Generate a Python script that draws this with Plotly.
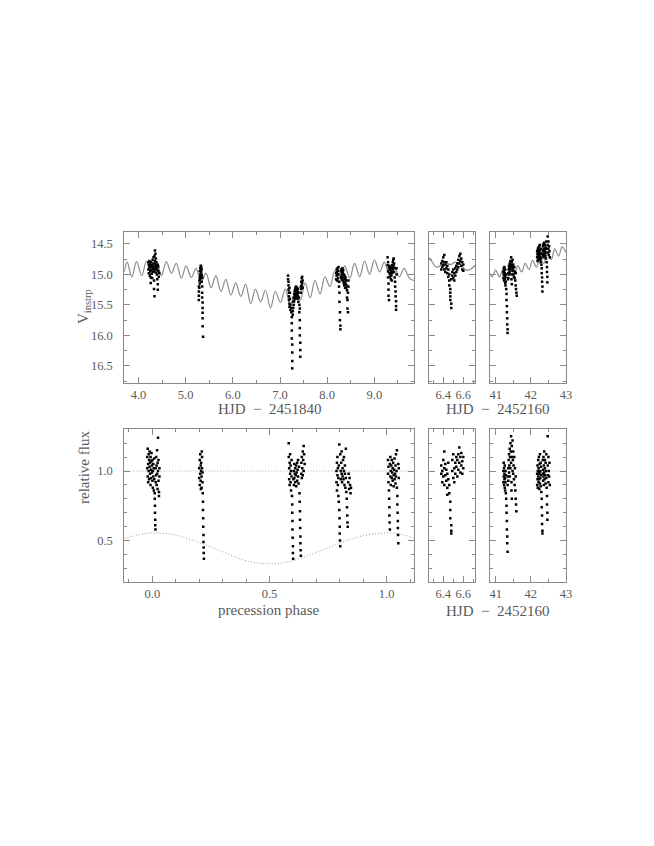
import plotly.graph_objects as go

# ---- observations, first season (HJD - 2451840, instrumental V) ----
main_a = [(4.21, 14.80), (4.21, 14.92), (4.22, 14.85), (4.22, 14.98), (4.23, 14.78), (4.23, 14.90),
          (4.24, 14.83), (4.24, 15.02), (4.25, 14.88), (4.25, 14.95), (4.26, 15.05), (4.26, 15.14),
          (4.26, 14.86), (4.27, 14.93), (4.27, 14.80), (4.28, 14.88), (4.28, 14.99), (4.29, 14.84),
          (4.30, 14.76), (4.30, 14.91), (4.31, 14.87), (4.31, 14.96), (4.32, 14.82), (4.32, 14.72),
          (4.33, 14.95), (4.33, 15.10), (4.33, 15.24), (4.34, 15.36), (4.34, 14.70), (4.34, 14.88),
          (4.35, 14.61), (4.35, 14.78), (4.35, 14.92), (4.36, 14.66), (4.36, 14.83), (4.37, 14.74),
          (4.37, 14.97), (4.38, 14.80), (4.38, 14.90), (4.39, 14.86), (4.39, 15.00), (4.40, 14.92),
          (4.40, 15.08), (4.41, 15.25), (4.41, 14.84), (4.41, 15.16), (4.42, 14.95), (4.42, 14.87),
          (4.43, 15.04), (4.44, 14.98), (4.29, 15.06), (4.37, 14.86)]
main_b = [(5.28, 15.20), (5.28, 15.28), (5.28, 15.35), (5.28, 15.42), (5.29, 15.10), (5.29, 15.22),
          (5.30, 14.95), (5.30, 15.05), (5.30, 15.15), (5.31, 14.90), (5.31, 15.00), (5.31, 15.08),
          (5.32, 14.86), (5.32, 14.94), (5.32, 15.03), (5.33, 14.88), (5.33, 14.97), (5.33, 15.06),
          (5.34, 14.92), (5.34, 15.01), (5.34, 15.12), (5.35, 15.05), (5.35, 15.20), (5.35, 15.30),
          (5.35, 15.38), (5.36, 15.46), (5.36, 15.55), (5.36, 15.63), (5.36, 15.72), (5.36, 15.85),
          (5.37, 16.02)]
main_c = [(7.17, 15.02), (7.17, 15.08), (7.18, 15.12), (7.18, 15.18), (7.18, 15.25), (7.19, 15.30),
          (7.19, 15.36), (7.19, 15.42), (7.20, 15.48), (7.20, 15.53), (7.20, 15.22), (7.21, 15.30),
          (7.21, 15.40), (7.22, 15.50), (7.22, 15.58), (7.24, 15.55), (7.24, 15.62), (7.25, 15.70),
          (7.25, 15.80), (7.25, 15.92), (7.25, 16.05), (7.26, 16.15), (7.26, 16.28), (7.26, 16.42),
          (7.26, 16.54), (7.27, 15.66), (7.27, 15.60), (7.28, 15.45), (7.28, 15.55), (7.29, 15.38),
          (7.29, 15.50), (7.30, 15.32), (7.30, 15.44), (7.31, 15.28), (7.31, 15.40), (7.32, 15.25),
          (7.32, 15.36), (7.33, 15.22), (7.33, 15.34), (7.34, 15.20), (7.34, 15.30), (7.35, 15.26),
          (7.35, 15.38), (7.36, 15.22), (7.36, 15.32), (7.37, 15.28), (7.37, 15.40), (7.38, 15.24),
          (7.38, 15.35), (7.39, 15.30), (7.39, 15.45), (7.40, 15.38), (7.41, 15.50), (7.41, 15.62),
          (7.42, 15.75), (7.42, 15.88), (7.42, 16.00), (7.43, 16.12), (7.43, 16.24), (7.43, 16.35),
          (7.42, 15.56), (7.44, 15.20), (7.44, 15.30), (7.45, 15.12), (7.45, 15.24), (7.46, 15.06),
          (7.46, 15.18), (7.47, 15.04), (7.47, 15.14), (7.48, 15.10), (7.48, 15.22)]
main_d = [(8.19, 14.98), (8.19, 15.08), (8.20, 14.92), (8.20, 15.02), (8.21, 14.96), (8.21, 15.10),
          (8.22, 14.90), (8.22, 15.00), (8.23, 14.94), (8.23, 15.06), (8.24, 14.88), (8.24, 15.00),
          (8.25, 15.12), (8.25, 15.20), (8.26, 15.30), (8.26, 15.45), (8.27, 15.62), (8.27, 15.75),
          (8.28, 15.84), (8.28, 15.90), (8.29, 14.95), (8.29, 15.05), (8.30, 14.92), (8.30, 15.02),
          (8.31, 14.98), (8.31, 15.08), (8.32, 14.90), (8.32, 15.00), (8.33, 14.96), (8.33, 15.10),
          (8.34, 14.93), (8.34, 15.04), (8.35, 15.00), (8.35, 15.14), (8.36, 15.06), (8.36, 15.18),
          (8.37, 15.02), (8.37, 15.12), (8.38, 15.08), (8.38, 15.22), (8.39, 15.15), (8.39, 15.05),
          (8.40, 15.10), (8.40, 15.22), (8.41, 15.18), (8.42, 15.26), (8.42, 15.38), (8.43, 15.42),
          (8.43, 15.56), (8.44, 15.62), (8.44, 15.30), (8.45, 15.10), (8.45, 15.20)]
main_e = [(9.28, 14.72), (9.28, 14.85), (9.29, 14.80), (9.29, 14.95), (9.29, 15.05), (9.30, 15.15),
          (9.30, 15.25), (9.30, 15.35), (9.31, 15.42), (9.31, 14.90), (9.32, 14.86), (9.32, 14.98),
          (9.33, 14.92), (9.33, 15.04), (9.34, 14.88), (9.34, 15.00), (9.35, 14.95), (9.35, 15.08),
          (9.36, 14.90), (9.36, 15.02), (9.37, 14.96), (9.37, 15.10), (9.38, 14.85), (9.38, 14.98),
          (9.39, 14.80), (9.39, 14.92), (9.40, 14.76), (9.40, 14.88), (9.41, 14.74), (9.41, 14.84),
          (9.42, 14.82), (9.42, 14.96), (9.43, 14.90), (9.43, 15.05), (9.44, 15.12), (9.44, 15.20),
          (9.45, 15.28), (9.45, 15.36), (9.46, 15.44), (9.46, 15.52), (9.46, 15.58), (9.47, 15.00),
          (9.47, 14.90)]

# model light curve, first season
main_model_t = [3.70, 3.76, 3.86, 3.96, 4.07, 4.17, 4.28, 4.38, 4.49, 4.59, 4.70, 4.80, 4.91, 5.01,
                5.12, 5.22, 5.33, 5.43, 5.54, 5.64, 5.75, 5.85, 5.96, 6.06, 6.17, 6.27, 6.38, 6.48,
                6.59, 6.69, 6.80, 6.90, 7.01, 7.11, 7.22, 7.32, 7.43, 7.53, 7.64, 7.74, 7.85, 7.95,
                8.06, 8.16, 8.27, 8.37, 8.48, 8.58, 8.69, 8.79, 8.90, 9.00, 9.11, 9.21, 9.32, 9.42,
                9.53, 9.63, 9.74, 9.84]
main_model_v = [14.96, 14.80, 15.04, 14.79, 15.02, 14.78, 15.00, 14.80, 15.02, 14.79, 14.98, 14.82,
                15.06, 14.86, 15.05, 14.90, 15.12, 14.98, 15.22, 15.02, 15.28, 15.08, 15.34, 15.14,
                15.36, 15.16, 15.48, 15.24, 15.45, 15.26, 15.55, 15.28, 15.46, 15.24, 15.50, 15.30,
                15.42, 15.14, 15.38, 15.10, 15.32, 15.04, 15.20, 14.94, 15.14, 14.86, 15.06, 14.82,
                15.04, 14.78, 15.00, 14.76, 14.96, 14.80, 15.00, 14.86, 15.04, 14.90, 15.06, 15.10]

# ---- second season (HJD - 2452160) ----
mid_obs = [(6.38, 14.82), (6.38, 14.92), (6.39, 14.78), (6.39, 14.88), (6.40, 14.72), (6.40, 14.85),
           (6.41, 14.68), (6.41, 14.80), (6.41, 14.92), (6.42, 14.84), (6.42, 14.96), (6.43, 14.80),
           (6.43, 14.90), (6.44, 14.86), (6.44, 14.98), (6.45, 14.92), (6.45, 15.04), (6.46, 15.00),
           (6.46, 15.10), (6.46, 15.18), (6.47, 15.24), (6.47, 15.30), (6.47, 15.36), (6.47, 15.42),
           (6.48, 15.48), (6.48, 15.55), (6.48, 15.08), (6.49, 14.96), (6.49, 15.02), (6.50, 14.92),
           (6.50, 15.06), (6.51, 14.98), (6.51, 15.10), (6.52, 14.90), (6.52, 15.02), (6.53, 14.86),
           (6.53, 14.96), (6.54, 14.82), (6.54, 14.92), (6.55, 14.76), (6.55, 14.88), (6.56, 14.70),
           (6.56, 14.82), (6.57, 14.66), (6.57, 14.78), (6.58, 14.74), (6.58, 14.86), (6.59, 14.80),
           (6.59, 14.92), (6.60, 14.84), (6.60, 14.94)]
mid_model_t = [6.257, 6.29, 6.33, 6.37, 6.42, 6.47, 6.52, 6.57, 6.63, 6.67, 6.717]
mid_model_v = [14.72, 14.80, 14.88, 14.86, 14.80, 14.84, 14.80, 14.84, 14.93, 14.92, 14.85]

late_f = [(41.22, 14.96), (41.22, 15.06), (41.23, 14.90), (41.23, 15.00), (41.24, 15.10), (41.24, 14.94),
          (41.25, 15.02), (41.25, 14.88), (41.26, 15.08), (41.26, 14.98), (41.27, 15.14), (41.27, 14.92),
          (41.28, 15.04), (41.28, 15.18), (41.29, 15.00), (41.29, 15.12), (41.30, 15.24), (41.31, 15.32),
          (41.31, 15.42), (41.32, 15.52), (41.32, 15.62), (41.33, 15.72), (41.33, 15.82), (41.34, 15.90),
          (41.34, 15.96), (41.35, 15.08), (41.36, 14.98), (41.36, 15.06), (41.37, 14.92), (41.38, 14.86),
          (41.38, 15.00), (41.39, 14.90), (41.40, 14.82), (41.40, 14.96), (41.41, 14.86), (41.42, 14.78),
          (41.42, 14.92), (41.43, 14.84), (41.44, 14.72), (41.44, 14.88), (41.45, 15.00), (41.45, 15.08),
          (41.46, 15.16), (41.46, 14.80), (41.47, 14.86), (41.48, 14.94), (41.48, 14.76), (41.49, 14.90),
          (41.50, 15.00), (41.50, 14.84), (41.51, 14.94), (41.52, 15.04), (41.53, 14.88), (41.54, 15.06),
          (41.55, 14.96), (41.56, 15.10), (41.57, 15.18), (41.58, 15.24), (41.59, 15.30), (41.60, 15.35),
          (41.57, 14.98)]
late_g = [(42.18, 14.72), (42.18, 14.62), (42.19, 14.78), (42.19, 14.66), (42.20, 14.58), (42.20, 14.70),
          (42.21, 14.64), (42.21, 14.76), (42.22, 14.56), (42.22, 14.68), (42.23, 14.62), (42.23, 14.74),
          (42.24, 14.54), (42.24, 14.66), (42.25, 14.70), (42.25, 14.60), (42.26, 14.76), (42.26, 14.52),
          (42.27, 14.64), (42.27, 14.72), (42.28, 14.58), (42.28, 14.80), (42.29, 14.66), (42.29, 14.74),
          (42.30, 14.84), (42.31, 14.90), (42.31, 14.98), (42.32, 15.05), (42.32, 15.12), (42.33, 15.20),
          (42.33, 15.28), (42.34, 14.60), (42.34, 14.70), (42.35, 14.54), (42.35, 14.66), (42.36, 14.50),
          (42.36, 14.62), (42.37, 14.58), (42.37, 14.72), (42.38, 14.48), (42.38, 14.60), (42.39, 14.66),
          (42.40, 14.52), (42.40, 14.62), (42.41, 14.70), (42.42, 14.56), (42.42, 14.64), (42.43, 14.74),
          (42.44, 14.58), (42.44, 14.46), (42.45, 14.80), (42.46, 14.88), (42.46, 14.96), (42.47, 15.04),
          (42.47, 15.13), (42.48, 14.38), (42.48, 14.52), (42.49, 14.64), (42.50, 14.46), (42.50, 14.58),
          (42.51, 14.68), (42.52, 14.54), (42.53, 14.62), (42.54, 14.72)]
late_model_t = [40.84, 40.90, 41.00, 41.11, 41.21, 41.32, 41.42, 41.53, 41.63, 41.74, 41.84, 41.95,
                42.05, 42.16, 42.26, 42.37, 42.47, 42.58, 42.68, 42.79, 42.89, 43.00]
late_model_v = [14.98, 15.04, 14.93, 15.04, 14.92, 15.02, 14.90, 15.00, 14.86, 14.96, 14.82, 14.92,
                14.77, 14.88, 14.72, 14.82, 14.65, 14.76, 14.58, 14.70, 14.55, 14.64]

# ---- relative flux against precession phase ----
phase_obs = [(-0.022, 1.02), (-0.022, 1.10), (-0.020, 0.96), (-0.020, 1.16), (-0.018, 1.05), (-0.018, 0.92),
             (-0.016, 1.12), (-0.016, 1.00), (-0.014, 1.08), (-0.014, 0.94), (-0.012, 1.03), (-0.012, 1.14),
             (-0.010, 0.98), (-0.010, 1.06), (-0.008, 0.90), (-0.008, 1.10), (-0.006, 1.01), (-0.006, 0.95),
             (-0.004, 1.07), (-0.004, 1.13), (-0.002, 0.99), (-0.002, 1.04), (0.000, 0.93), (0.000, 1.08),
             (0.002, 1.00), (0.002, 0.88), (0.004, 1.05), (0.004, 0.96), (0.006, 1.02), (0.006, 0.86),
             (0.008, 0.94), (0.008, 1.09), (0.010, 0.84), (0.010, 0.80), (0.011, 0.75), (0.011, 0.70),
             (0.012, 0.65), (0.012, 0.61), (0.013, 0.58), (0.014, 0.92), (0.014, 1.02), (0.016, 0.97),
             (0.016, 1.10), (0.018, 1.04), (0.018, 0.90), (0.020, 1.15), (0.020, 0.98), (0.022, 1.06),
             (0.022, 0.87), (0.024, 1.24), (0.024, 1.00), (0.026, 0.93), (0.026, 1.08), (0.028, 0.85),
             (0.028, 0.82), (0.030, 0.96), (0.030, 1.02),
             (0.200, 1.02), (0.200, 0.95), (0.202, 1.08), (0.202, 0.90), (0.204, 1.12), (0.204, 0.98),
             (0.206, 1.04), (0.206, 0.93), (0.208, 1.00), (0.208, 1.06), (0.210, 0.96), (0.210, 0.88),
             (0.212, 1.02), (0.212, 1.10), (0.214, 0.92), (0.214, 0.99), (0.215, 0.84), (0.216, 0.78),
             (0.216, 0.72), (0.217, 0.66), (0.217, 0.60), (0.218, 0.54), (0.218, 0.49), (0.219, 0.45),
             (0.219, 0.41), (0.220, 0.37), (0.211, 1.14), (0.207, 0.87),
             (0.582, 1.20), (0.582, 1.10), (0.584, 1.02), (0.584, 0.94), (0.586, 1.06), (0.586, 0.90),
             (0.588, 1.12), (0.588, 0.98), (0.590, 1.04), (0.590, 0.92), (0.592, 1.00), (0.592, 0.86),
             (0.594, 0.96), (0.594, 1.08), (0.596, 0.82), (0.597, 0.76), (0.597, 0.70), (0.598, 0.64),
             (0.598, 0.58), (0.599, 0.52), (0.600, 0.46), (0.600, 0.41), (0.601, 0.37), (0.602, 0.94),
             (0.604, 1.00), (0.604, 0.90), (0.606, 1.05), (0.606, 0.95), (0.608, 0.98), (0.610, 1.02),
             (0.610, 0.92), (0.612, 0.97), (0.614, 1.04), (0.614, 0.89), (0.616, 0.99), (0.618, 1.06),
             (0.618, 0.93), (0.620, 1.01), (0.622, 0.96), (0.622, 1.08), (0.624, 0.91), (0.626, 1.03),
             (0.628, 0.84), (0.629, 0.78), (0.630, 0.71), (0.630, 0.65), (0.631, 0.59), (0.632, 0.53),
             (0.632, 0.48), (0.633, 0.43), (0.634, 0.39), (0.636, 0.98), (0.636, 1.06), (0.638, 1.10),
             (0.638, 0.95), (0.640, 1.02), (0.642, 1.14), (0.642, 0.97), (0.644, 1.08), (0.646, 1.18),
             (0.646, 1.00), (0.648, 1.12), (0.650, 1.05),
             (0.786, 1.00), (0.786, 0.92), (0.788, 1.06), (0.788, 0.86), (0.790, 0.97), (0.790, 1.10),
             (0.792, 0.90), (0.792, 1.02), (0.794, 0.82), (0.794, 0.95), (0.796, 1.04), (0.796, 0.78),
             (0.798, 0.72), (0.798, 1.19), (0.799, 0.66), (0.800, 0.60), (0.800, 0.55), (0.801, 0.50),
             (0.802, 0.46), (0.802, 1.12), (0.804, 1.00), (0.804, 0.94), (0.806, 1.06), (0.808, 0.98),
             (0.808, 1.14), (0.810, 0.92), (0.812, 1.02), (0.812, 0.96), (0.814, 1.08), (0.816, 0.94),
             (0.818, 1.00), (0.818, 1.10), (0.820, 0.90), (0.822, 0.98), (0.822, 1.04), (0.824, 0.88),
             (0.826, 0.95), (0.826, 1.16), (0.828, 0.85), (0.830, 0.80), (0.831, 0.74), (0.832, 0.68),
             (0.833, 0.63), (0.834, 0.60), (0.836, 0.92), (0.838, 0.98), (0.840, 0.87), (0.842, 0.95),
             (0.844, 0.90), (0.846, 0.84), (0.848, 0.88),
             (1.006, 1.08), (1.006, 0.98), (1.008, 1.03), (1.008, 0.92), (1.010, 0.86), (1.011, 0.80),
             (1.012, 0.74), (1.012, 0.68), (1.013, 0.63), (1.014, 0.58), (1.014, 1.05), (1.016, 0.96),
             (1.016, 1.10), (1.018, 1.00), (1.018, 0.90), (1.020, 1.04), (1.022, 0.95), (1.022, 1.08),
             (1.024, 0.99), (1.026, 0.93), (1.026, 1.02), (1.028, 1.06), (1.030, 0.97), (1.030, 0.89),
             (1.032, 1.01), (1.034, 0.94), (1.034, 1.09), (1.036, 0.98), (1.038, 1.04), (1.038, 0.91),
             (1.040, 1.12), (1.040, 0.96), (1.042, 1.00), (1.044, 1.15), (1.044, 0.88), (1.046, 0.82),
             (1.046, 0.76), (1.047, 0.70), (1.048, 0.64), (1.048, 0.59), (1.049, 0.54), (1.050, 0.48),
             (1.050, 1.05), (1.052, 0.95), (1.052, 1.02)]
# dotted precession envelope
env_phase = [-0.12, -0.05, 0.00, 0.10, 0.20, 0.30, 0.40, 0.50, 0.60, 0.70, 0.80, 0.90, 1.00, 1.05, 1.117]
env_flux = [0.515, 0.545, 0.555, 0.540, 0.485, 0.420, 0.355, 0.333, 0.355, 0.415, 0.480, 0.535, 0.555, 0.548, 0.520]
unit_flux = 1.0
phase_span = [-0.12, 1.117]
late_unit_span = [41.62, 43.0]

mid_flux = [(6.38, 0.98), (6.38, 1.04), (6.39, 0.92), (6.39, 1.00), (6.40, 0.96), (6.40, 1.08),
            (6.41, 1.14), (6.41, 1.02), (6.41, 0.90), (6.42, 0.97), (6.42, 1.05), (6.43, 0.93),
            (6.43, 1.01), (6.44, 0.88), (6.44, 0.83), (6.44, 0.98), (6.45, 1.06), (6.45, 0.94),
            (6.46, 0.90), (6.46, 0.84), (6.47, 0.78), (6.47, 0.72), (6.47, 0.66), (6.48, 0.61),
            (6.48, 0.57), (6.48, 0.55), (6.49, 1.00), (6.49, 1.08), (6.50, 0.95), (6.50, 1.12),
            (6.51, 1.02), (6.51, 0.92), (6.52, 1.06), (6.52, 0.98), (6.53, 1.10), (6.53, 1.03),
            (6.54, 0.96), (6.54, 1.08), (6.55, 1.12), (6.55, 1.01), (6.56, 1.17), (6.56, 1.06),
            (6.57, 1.10), (6.57, 0.99), (6.58, 1.04), (6.58, 1.13), (6.59, 1.07), (6.59, 0.98),
            (6.60, 1.02), (6.60, 1.10)]
late_flux = [(41.22, 1.00), (41.22, 0.92), (41.23, 1.06), (41.23, 0.96), (41.24, 0.90), (41.24, 1.02),
             (41.25, 0.94), (41.25, 0.98), (41.26, 0.88), (41.26, 1.04), (41.27, 0.95), (41.27, 0.86),
             (41.28, 1.00), (41.28, 0.92), (41.29, 0.97), (41.29, 0.84), (41.30, 0.80), (41.31, 0.75),
             (41.31, 0.70), (41.32, 0.64), (41.32, 0.58), (41.33, 0.53), (41.33, 0.48), (41.34, 0.42),
             (41.34, 0.90), (41.35, 0.96), (41.36, 1.02), (41.36, 0.93), (41.37, 1.08), (41.38, 0.99),
             (41.38, 1.12), (41.39, 1.04), (41.40, 1.16), (41.40, 0.96), (41.41, 1.10), (41.42, 1.20),
             (41.42, 1.02), (41.43, 1.14), (41.44, 1.25), (41.44, 1.06), (41.45, 0.92), (41.45, 0.86),
             (41.46, 0.80), (41.46, 1.18), (41.47, 1.10), (41.48, 1.00), (41.48, 1.22), (41.49, 1.08),
             (41.50, 0.98), (41.50, 1.14), (41.51, 1.04), (41.52, 0.94), (41.53, 1.10), (41.54, 0.90),
             (41.55, 1.02), (41.56, 0.86), (41.57, 0.80), (41.58, 0.76), (41.59, 0.71), (41.57, 0.96),
             (42.18, 0.98), (42.18, 0.90), (42.19, 1.04), (42.19, 0.94), (42.20, 1.00), (42.20, 0.88),
             (42.21, 1.08), (42.21, 0.96), (42.22, 0.92), (42.22, 1.02), (42.23, 0.98), (42.23, 1.10),
             (42.24, 0.94), (42.24, 0.87), (42.25, 1.05), (42.25, 0.99), (42.26, 0.91), (42.26, 1.12),
             (42.27, 1.00), (42.27, 0.95), (42.28, 1.06), (42.28, 0.89), (42.29, 0.97), (42.29, 1.03),
             (42.30, 0.85), (42.31, 0.80), (42.31, 0.74), (42.32, 0.68), (42.32, 0.62), (42.33, 0.57),
             (42.33, 0.55), (42.34, 0.98), (42.34, 1.08), (42.35, 0.93), (42.35, 1.01), (42.36, 1.10),
             (42.36, 0.96), (42.37, 1.04), (42.37, 0.90), (42.38, 0.99), (42.38, 1.14), (42.39, 0.94),
             (42.40, 1.02), (42.40, 1.08), (42.41, 0.97), (42.42, 1.06), (42.42, 0.91), (42.43, 1.00),
             (42.44, 0.95), (42.44, 1.12), (42.45, 0.88), (42.46, 0.82), (42.46, 0.76), (42.47, 0.70),
             (42.47, 0.65), (42.48, 1.25), (42.48, 1.04), (42.49, 0.97), (42.50, 1.10), (42.50, 0.92),
             (42.51, 1.00), (42.52, 0.96), (42.53, 1.06), (42.54, 0.90)]

W, H = 654, 846
FONT = "Liberation Serif"
TEXT = "#5a5a5a"
FRAME = "#8a8a8a"


def px(x0, x1):
    """pixel span -> paper fraction (horizontal)"""
    return [x0 / W, x1 / W]


def py(y0, y1):
    """pixel span (from top) -> paper fraction (vertical)"""
    return [1 - y1 / H, 1 - y0 / H]


def axis(domain, anchor, rng, dtick, minor, labels=True, fmt=".1f", tickvals=None):
    ax = dict(domain=domain, anchor=anchor, range=rng, showline=True, linecolor=FRAME,
              linewidth=1, mirror="allticks", ticks="inside", ticklen=6, tickcolor=FRAME,
              showgrid=False, zeroline=False, showticklabels=labels, tickformat=fmt,
              automargin=False,
              tickfont=dict(family=FONT, size=12.5, color=TEXT),
              minor=dict(ticks="inside", ticklen=3, tickcolor=FRAME, dtick=minor, showgrid=False))
    if tickvals is not None:
        ax["tickvals"] = tickvals
    else:
        ax["tick0"] = 0
        ax["dtick"] = dtick
    return ax


def dots(pairs, xa, ya):
    return go.Scatter(x=[p[0] for p in pairs], y=[p[1] for p in pairs], xaxis=xa, yaxis=ya,
                      mode="markers", marker=dict(color="black", size=2.5, symbol="square"),
                      showlegend=False, hoverinfo="skip")


def model(t, v, xa, ya, dash="solid", width=1.2):
    return go.Scatter(x=t, y=v, xaxis=xa, yaxis=ya, mode="lines", showlegend=False,
                      line=dict(color="#8c8c8c", width=width, dash=dash, shape="spline"),
                      hoverinfo="skip")


fig = go.Figure()
# top row: magnitudes
fig.add_trace(model(main_model_t, main_model_v, "x", "y"))
for cl in [main_a, main_b, main_c, main_d, main_e]:
    fig.add_trace(dots(cl, "x", "y"))
fig.add_trace(model(mid_model_t, mid_model_v, "x2", "y2"))
fig.add_trace(dots(mid_obs, "x2", "y2"))
fig.add_trace(model(late_model_t, late_model_v, "x3", "y3"))
fig.add_trace(dots(late_f, "x3", "y3"))
fig.add_trace(dots(late_g, "x3", "y3"))

# bottom row: relative flux
fig.add_trace(go.Scatter(x=phase_span, y=[unit_flux, unit_flux], xaxis="x4", yaxis="y4", mode="lines",
                         line=dict(color="#a0a0a0", width=0.9, dash="1px,2px"), showlegend=False))
fig.add_trace(model(env_phase, env_flux, "x4", "y4", dash="1px,2px", width=0.9))
fig.add_trace(dots(phase_obs, "x4", "y4"))
fig.add_trace(dots(mid_flux, "x5", "y5"))
fig.add_trace(go.Scatter(x=late_unit_span, y=[unit_flux, unit_flux], xaxis="x6", yaxis="y6", mode="lines",
                         line=dict(color="#a0a0a0", width=0.9, dash="1px,2px"), showlegend=False))
fig.add_trace(dots(late_flux, "x6", "y6"))

top = py(231.7, 383)
bot = py(429.3, 582.3)
left = px(124.3, 414)
middle = px(429, 475)
right = px(490, 566)
mag_range = [16.78, 14.30]
flux_range = [0.2, 1.3]

fig.update_layout(
    width=W, height=H, margin=dict(l=0, r=0, t=0, b=0),
    paper_bgcolor="white", plot_bgcolor="white",
    xaxis=axis(left, "y", [3.70, 9.84], 1, 0.5),
    yaxis=axis(top, "x", mag_range, 0.5, 0.25),
    xaxis2=axis(middle, "y2", [6.257, 6.717], None, 0.1, tickvals=[6.4, 6.6]),
    yaxis2=axis(top, "x2", mag_range, 0.5, 0.25, labels=False),
    xaxis3=axis(right, "y3", [40.84, 43.0], 1, 0.5, fmt="d"),
    yaxis3=axis(top, "x3", mag_range, 0.5, 0.25, labels=False),
    xaxis4=axis(left, "y4", [-0.12, 1.117], 0.5, 0.1),
    yaxis4=axis(bot, "x4", flux_range, 0.5, 0.1),
    xaxis5=axis(middle, "y5", [6.257, 6.717], None, 0.1, tickvals=[6.4, 6.6]),
    yaxis5=axis(bot, "x5", flux_range, 0.5, 0.1, labels=False),
    xaxis6=axis(right, "y6", [40.84, 43.0], 1, 0.5, fmt="d"),
    yaxis6=axis(bot, "x6", flux_range, 0.5, 0.1, labels=False),
)
for name in ["yaxis", "yaxis4"]:
    fig.layout[name].ticklabelstandoff = 8

# axis titles
title_font = dict(family=FONT, size=15, color=TEXT)
hjd_gap = "\u00a0\u00a0\u2212\u00a0\u00a0"
titles = [
    ("HJD" + hjd_gap + "2451840", 269, 409, 0),
    ("HJD" + hjd_gap + "2452160", 497.5, 409, 0),
    ("precession phase", 269, 610, 0),
    ("HJD" + hjd_gap + "2452160", 497.5, 611, 0),
    ("V<sub>instrp</sub>", 84, 307, -90),
    ("relative flux", 84, 468, -90),
]
for text, x, y, ang in titles:
    fig.add_annotation(text=text, x=x / W, y=1 - y / H, xref="paper", yref="paper",
                       showarrow=False, textangle=ang, font=title_font,
                       xanchor="center", yanchor="middle")

# the page body has a default margin; drop it so the figure sits at the window corner
fig.write_html("out.html", config={"displayModeBar": False},
               post_script="document.body.style.margin='0px';")
